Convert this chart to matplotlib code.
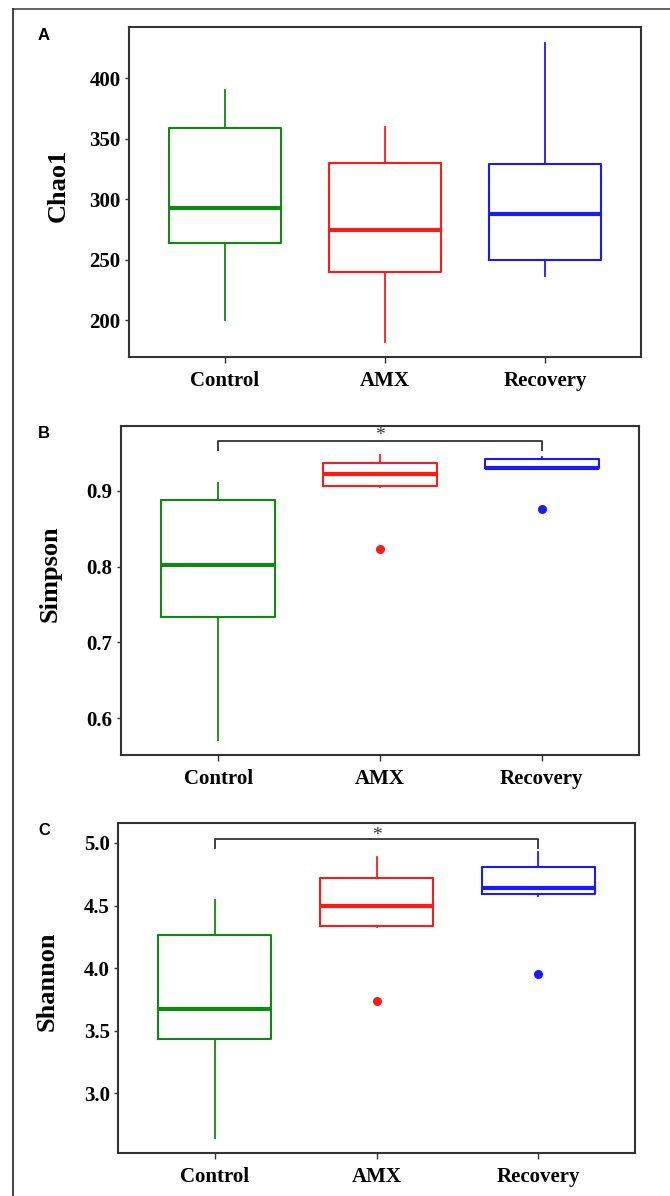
import numpy as np
import matplotlib
matplotlib.use("Agg")
import matplotlib.pyplot as plt
from matplotlib.lines import Line2D

groups = ["Control", "AMX", "Recovery"]
colors = ["#118811", "#ff1a1a", "#1a1aff"]

# box stats: (whislo, q1, med, q3, whishi)
chao1 = [(200.6, 263.7, 292.4, 359.2, 390.3),
         (182.3, 240.0, 274.5, 329.7, 360.0),
         (236.7, 249.7, 287.7, 329.4, 429.2)]
chao1_out = [[], [], []]

simpson = [(0.5715, 0.734, 0.802, 0.888, 0.9097),
           (0.905, 0.9057, 0.9215, 0.9365, 0.947),
           (0.929, 0.9295, 0.930, 0.9417, 0.9447)]
simpson_out = [[], [0.823], [0.8754]]

shannon = [(2.645, 3.435, 3.67, 4.268, 4.546),
           (4.327, 4.34, 4.495, 4.722, 4.888),
           (4.58, 4.594, 4.637, 4.81, 4.928)]
shannon_out = [[], [3.736], [3.95]]

panels = [
    dict(letter="A", label="Chao1", stats=chao1, out=chao1_out,
         ylim=(169.7, 442.2), ticks=[200, 250, 300, 350, 400], fmt="{:.0f}",
         rect=[0.1925, 0.7015, 0.7642, 0.2759], ly=0.52, sig=None),
    dict(letter="B", label="Simpson", stats=simpson, out=simpson_out,
         ylim=(0.5517, 0.9856), ticks=[0.6, 0.7, 0.8, 0.9], fmt="{:.1f}",
         rect=[0.1806, 0.3687, 0.7731, 0.2753], ly=0.55,
         sig=(0.9654, 0.9535, 0.961)),
    dict(letter="C", label="Shannon", stats=shannon, out=shannon_out,
         ylim=(2.522, 5.16), ticks=[3.0, 3.5, 4.0, 4.5, 5.0], fmt="{:.1f}",
         rect=[0.1761, 0.0359, 0.7717, 0.2760], ly=0.52,
         sig=(5.035, 4.96, 4.99)),
]

serif = "Liberation Serif"
fig = plt.figure(figsize=(6.70, 11.96), dpi=100)

# outer frame (top and left edges only)
fig.add_artist(Line2D([13 / 670, 1.0], [1 - 9 / 1196] * 2, color="#555555", lw=1.3,
                      transform=fig.transFigure))
fig.add_artist(Line2D([13 / 670] * 2, [0.0, 1 - 9 / 1196], color="#333333", lw=1.3,
                      transform=fig.transFigure))

for p in panels:
    ax = fig.add_axes(p["rect"])
    for i, (st, fl) in enumerate(zip(p["stats"], p["out"])):
        lo, q1, med, q3, hi = st
        bs = [dict(whislo=lo, q1=q1, med=med, q3=q3, whishi=hi, fliers=fl)]
        c = colors[i]
        ax.bxp(bs, positions=[i], widths=0.7, showcaps=False,
               boxprops=dict(color=c, lw=1.5),
               whiskerprops=dict(color=c, lw=1.3),
               medianprops=dict(color=c, lw=3),
               flierprops=dict(marker="o", markerfacecolor=c, markeredgecolor=c,
                               markersize=5.5, linestyle="none"))
    ax.set_xlim(-0.6, 2.6)
    ax.set_ylim(*p["ylim"])
    ax.set_xticks(range(len(groups)))
    ax.set_xticklabels(groups, fontsize=15, fontweight="bold", family=serif)
    ax.set_yticks(p["ticks"])
    ax.set_yticklabels([p["fmt"].format(t) for t in p["ticks"]], fontsize=15,
                       fontweight="bold", family=serif)
    ax.tick_params(axis="x", length=4, width=1, pad=6, color="#333333")
    ax.tick_params(axis="y", length=3, width=1, pad=3, color="#333333")
    for s in ax.spines.values():
        s.set_color("#333333")
        s.set_linewidth(1.5)
    ax.set_ylabel(p["label"], fontsize=19, fontweight="bold", family=serif)
    ax.yaxis.set_label_coords(-0.115, p["ly"])

    if p["sig"] is not None:
        ytop, ydrop, ystar = p["sig"]
        ax.plot([0, 0, 2, 2], [ydrop, ytop, ytop, ydrop], color="#333333", lw=1.3)
        ax.text(1, ystar, "*", ha="center", va="bottom", fontsize=14,
                family=serif, color="#333333")

    top = p["rect"][1] + p["rect"][3]
    fig.text(38 / 670, top - 8 / 1196, p["letter"], fontsize=12, fontweight="bold",
             family="Liberation Sans", ha="left", va="center")

fig.savefig("out.png", dpi=100)
